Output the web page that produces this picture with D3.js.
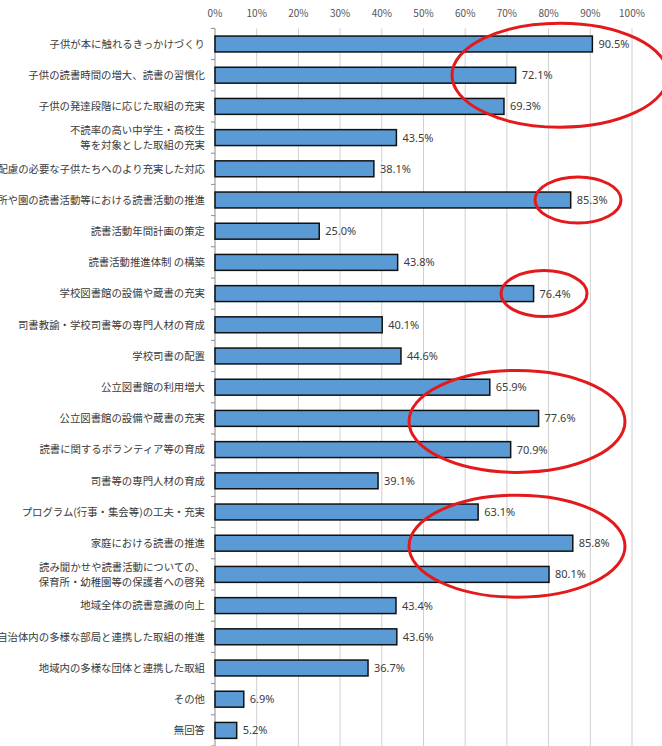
<!DOCTYPE html>
<html>
<head>
<meta charset="utf-8">
<script src="https://cdn.jsdelivr.net/npm/d3@7"></script>
<style>
  html, body { margin: 0; padding: 0; background: #fff; }
  svg { display: block; }
</style>
</head>
<body>
<div id="chart"></div>
<script>
// Categories (top to bottom), "\n" splits a label onto two lines
const categories = [
  "子供が本に触れるきっかけづくり",
  "子供の読書時間の増大、読書の習慣化",
  "子供の発達段階に応じた取組の充実",
  "不読率の高い中学生・高校生\n等を対象とした取組の充実",
  "配慮の必要な子供たちへのより充実した対応",
  "保育所や園の読書活動等における読書活動の推進",
  "読書活動年間計画の策定",
  "読書活動推進体制 の構築",
  "学校図書館の設備や蔵書の充実",
  "司書教諭・学校司書等の専門人材の育成",
  "学校司書の配置",
  "公立図書館の利用増大",
  "公立図書館の設備や蔵書の充実",
  "読書に関するボランティア等の育成",
  "司書等の専門人材の育成",
  "プログラム(行事・集会等)の工夫・充実",
  "家庭における読書の推進",
  "読み聞かせや読書活動についての、\n保育所・幼稚園等の保護者への啓発",
  "地域全体の読書意識の向上",
  "自治体内の多様な部局と連携した取組の推進",
  "地域内の多様な団体と連携した取組",
  "その他",
  "無回答"
];

// Percentages
const values = [90.5, 72.1, 69.3, 43.5, 38.1, 85.3, 25.0, 43.8, 76.4, 40.1, 44.6,
  65.9, 77.6, 70.9, 39.1, 63.1, 85.8, 80.1, 43.4, 43.6, 36.7, 6.9, 5.2];

// Axis ticks
const tickValues = [0, 10, 20, 30, 40, 50, 60, 70, 80, 90, 100];

// Red annotation rings: first and last bar each one is centred on
const highlightGroups = [
  [0, 2],   // 90.5 .. 69.3
  [5, 5],   // 85.3
  [8, 8],   // 76.4
  [12, 12], // 65.9, 77.6, 70.9
  [16, 16]  // 85.8, 80.1
];

const width = 662, height = 746;
const svg = d3.select("#chart").append("svg")
  .attr("width", width)
  .attr("height", height);

const plotTop = 28.4, plotBottom = 746;
const x = d3.scaleLinear().domain([0, 100]).range([215, 632]);
const y = d3.scaleBand().domain(d3.range(categories.length)).range([plotTop, plotBottom]).paddingInner(0.49).paddingOuter(0.245);

// Vertical gridlines
svg.append("g")
  .selectAll("line")
  .data(tickValues)
  .join("line")
  .attr("x1", d => x(d)).attr("x2", d => x(d))
  .attr("y1", plotTop).attr("y2", plotBottom)
  .style("stroke", d => d === 0 ? "#8c8c8c" : "#cfcfcf")
  .style("stroke-width", 1);

// Top tick labels
svg.append("g")
  .selectAll("text")
  .data(tickValues)
  .join("text")
  .attr("x", d => x(d))
  .attr("y", 17)
  .attr("text-anchor", "middle")
  .style("font-family", "'Noto Sans CJK JP', 'DejaVu Sans', sans-serif")
  .style("font-size", "10px")
  .style("fill", "#555")
  .text(d => d + "%");

// Small ticks on the category axis
const step = y.step();
svg.append("g")
  .selectAll("line")
  .data(d3.range(categories.length + 1))
  .join("line")
  .attr("x1", x(0) - 4).attr("x2", x(0))
  .attr("y1", i => plotTop + i * step).attr("y2", i => plotTop + i * step)
  .style("stroke", "#8c8c8c");

// Bars
svg.append("g")
  .selectAll("rect")
  .data(values)
  .join("rect")
  .attr("x", x(0))
  .attr("y", (d, i) => y(i))
  .attr("width", d => x(d) - x(0))
  .attr("height", y.bandwidth())
  .style("fill", "#5b9bd5")
  .style("stroke", "#111")
  .style("stroke-width", 1.5);

// Value labels
svg.append("g")
  .selectAll("text")
  .data(values)
  .join("text")
  .attr("x", d => x(d) + 6)
  .attr("y", (d, i) => y(i) + y.bandwidth() / 2)
  .attr("dy", "0.36em")
  .style("font-family", "'Noto Sans', 'DejaVu Sans', sans-serif")
  .style("font-size", "11px")
  .style("fill", "#3c3c3c")
  .text(d => d.toFixed(1) + "%");

// Category labels
const labels = svg.append("g")
  .selectAll("text")
  .data(categories)
  .join("text")
  .attr("text-anchor", "end")
  .style("font-family", "'Noto Sans CJK JP', sans-serif")
  .style("font-size", "10.4px")
  .style("fill", "#3a3a3a");

labels.each(function (d, i) {
  const lines = d.split("\n");
  const cy = y(i) + y.bandwidth() / 2;
  const lh = 15;
  d3.select(this).selectAll("tspan")
    .data(lines)
    .join("tspan")
    .attr("x", 205)
    .attr("y", (l, j) => cy + (j - (lines.length - 1) / 2) * lh)
    .attr("dy", "0.36em")
    .text(l => l);
});

// Red rings round the highlighted bars
const rings = [
  { g: 0, cx: 560, rx: 108, ry: 52, dy: 0 },
  { g: 1, cx: 578, rx: 43, ry: 23, dy: 0 },
  { g: 2, cx: 544, rx: 43, ry: 23, dy: 0 },
  { g: 3, cx: 517, rx: 108, ry: 51, dy: 3 },
  { g: 4, cx: 517, rx: 108, ry: 51, dy: 3 }
];
svg.append("g")
  .selectAll("ellipse")
  .data(rings)
  .join("ellipse")
  .attr("cx", d => d.cx)
  .attr("cy", d => {
    const [a, b] = highlightGroups[d.g];
    return (y(a) + y(b) + y.bandwidth()) / 2 + d.dy;
  })
  .attr("rx", d => d.rx)
  .attr("ry", d => d.ry)
  .style("fill", "none")
  .style("stroke", "#e3191c")
  .style("stroke-width", 3);
</script>
</body>
</html>
